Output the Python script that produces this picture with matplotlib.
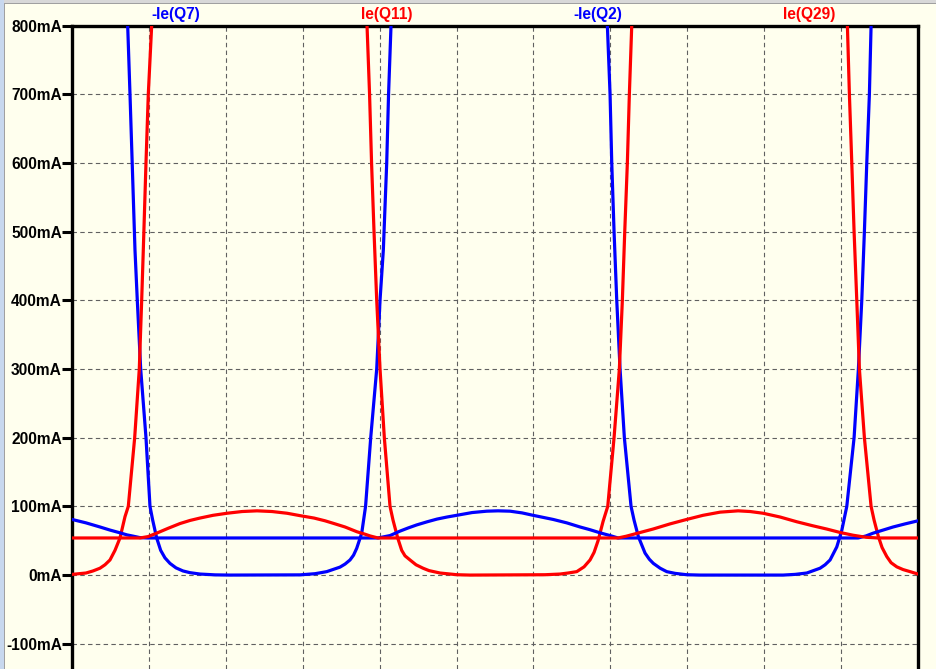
import matplotlib
matplotlib.use("Agg")
import matplotlib.pyplot as plt
from matplotlib.patches import Rectangle

W, H = 937, 669
BG = "#FFFFEE"

# time axis in grid divisions (11 divisions across the plot), currents in mA
t_q7 = [0.000, 0.724, 0.754, 0.819, 0.849, 0.893, 0.962, 1.014, 1.049, 1.101,
        1.153, 1.209, 1.274, 1.352, 1.443, 1.534, 1.664, 1.860, 2.055, 2.965,
        3.160, 3.312, 3.485, 3.550, 3.615, 3.661, 3.702, 3.767, 3.817, 3.884,
        3.962, 4.005, 4.048, 4.092, 4.116, 4.148, 5.540, 6.961, 6.996, 7.018,
        7.048, 7.083, 7.126, 7.182, 7.269, 7.308, 7.364, 7.451, 7.507, 7.559,
        7.647, 7.733, 7.841, 7.993, 8.166, 9.246, 9.402, 9.554, 9.727, 9.792,
        9.857, 9.944, 10.009, 10.074, 10.169, 10.225, 10.269, 10.303, 10.334,
        10.368, 10.390, 11.000]
i_q7 = [3900, 800, 700, 473, 400, 300, 200, 100, 80, 54,
        36, 25, 17, 10.5, 6, 3.5, 1.5, 0.3, 0, 0.3,
        2, 5, 11.6, 16, 22, 29, 39, 61, 100, 200,
        300, 400, 473, 600, 700, 800, 5000, 800, 700, 600,
        500, 400, 300, 200, 100, 80, 56, 32, 23, 17,
        10, 5, 2.5, 0.5, 0, 0, 1, 3, 10, 15,
        22, 41, 65, 100, 200, 300, 400, 500, 600,
        700, 800, 3500]

t_q11 = [0.000, 0.182, 0.273, 0.364, 0.429, 0.494, 0.559, 0.624, 0.689, 0.732,
         0.815, 0.875, 0.906, 0.927, 0.962, 0.992, 1.036, 2.419, 3.836, 3.869,
         3.895, 3.927, 3.962, 4.005, 4.061, 4.135, 4.174, 4.235, 4.287, 4.330,
         4.395, 4.473, 4.564, 4.642, 4.785, 5.006, 5.176, 6.151, 6.346, 6.450,
         6.563, 6.658, 6.736, 6.788, 6.840, 6.905, 6.966, 7.048, 7.117, 7.156,
         7.187, 7.221, 7.247, 7.278, 8.661, 10.082, 10.108, 10.139, 10.169,
         10.204, 10.238, 10.303, 10.390, 10.429, 10.485, 10.533, 10.594, 10.650,
         10.724, 10.806, 10.897, 11.000]
i_q11 = [1, 3, 6, 10, 15, 22, 36, 54, 85, 100,
         200, 300, 400, 473, 600, 700, 800, 5000, 800, 700,
         600, 500, 400, 300, 200, 100, 80, 54, 36, 28,
         22, 15, 10, 6.5, 3, 0.5, 0, 0.5, 1.5, 3,
         5, 12, 22, 33, 50, 78, 100, 200, 300, 400,
         500, 600, 700, 800, 5000, 800, 700, 600, 500,
         400, 300, 200, 100, 80, 56, 40, 27, 18,
         12, 8, 5, 1.5]

t_q2 = [0.000, 0.182, 0.364, 0.494, 0.624, 0.715, 0.793, 0.884, 0.988, 3.979,
        4.135, 4.265, 4.369, 4.482, 4.616, 4.746, 4.876, 5.003, 5.202, 5.393,
        5.540, 5.696, 5.852, 5.995, 6.125, 6.255, 6.433, 6.606, 6.736, 6.866,
        6.996, 7.100, 10.221, 10.325, 10.416, 10.546, 10.676, 10.832, 11.000]
i_q2 = [81, 76, 70, 65.5, 61.5, 58.5, 56.7, 54.5, 54, 54,
        57.5, 64, 68.5, 73, 77.5, 81.5, 84.5, 87, 91, 93,
        93.5, 93, 90.5, 87, 84, 81, 76, 70, 66, 61.5,
        57.5, 54, 54, 57, 61, 65.5, 70, 74.5, 79]

t_q29 = [0.000, 0.884, 0.988, 1.101, 1.248, 1.404, 1.534, 1.664, 1.834, 2.016,
         2.211, 2.406, 2.601, 2.796, 2.965, 3.147, 3.290, 3.407, 3.550, 3.706,
         3.810, 3.875, 3.979, 7.100, 7.204, 7.321, 7.438, 7.555, 7.776, 7.993,
         8.205, 8.427, 8.661, 8.817, 8.986, 9.207, 9.424, 9.623, 9.814, 9.987,
         10.156, 10.325, 10.481, 11.000]
i_q29 = [54, 54, 56, 61, 68, 75, 79.5, 83, 87, 90,
         92.5, 93.5, 92.5, 90, 86.5, 83, 79, 75, 70, 63,
         59.5, 57, 54, 54, 56.5, 60, 63.5, 67, 74.5, 81,
         87, 91.6, 93.5, 92.5, 90, 84.5, 77.6, 72, 67, 62,
         58, 55, 54, 54]

y_ticks = [-100, 0, 100, 200, 300, 400, 500, 600, 700, 800]
y_labels = ["-100mA", "0mA", "100mA", "200mA", "300mA", "400mA",
            "500mA", "600mA", "700mA", "800mA"]

trace_names = ["-Ie(Q7)", "Ie(Q11)", "-Ie(Q2)", "Ie(Q29)"]
trace_colors = ["#0000FF", "#FF0000", "#0000FF", "#FF0000"]
label_x = [176, 387, 598, 809]

plt.rcParams["font.family"] = ["Liberation Sans", "DejaVu Sans"]

fig = plt.figure(figsize=(W / 100, H / 100), dpi=100, facecolor=BG)
ax = fig.add_axes([72 / W, 0, (918 - 72) / W, (669 - 25.5) / H])
ax.set_facecolor(BG)

ax.set_xlim(0, 11)
ax.set_ylim(-(669 - 575) / 0.6875, 800)

# grid
for gx in range(1, 11):
    ax.axvline(gx, color="#606060", lw=0.8, ls=(0, (4, 3)), zorder=1)
for gy in y_ticks[:-1]:
    ax.axhline(gy, color="#606060", lw=0.8, ls=(0, (4, 3)), zorder=1)

series = [(t_q7, i_q7), (t_q11, i_q11), (t_q2, i_q2), (t_q29, i_q29)]
for (tt, ii), c in zip(series, trace_colors):
    ax.plot(tt, ii, color=c, lw=2.3, solid_joinstyle="round", zorder=3)

ax.set_yticks(y_ticks)
ax.set_yticklabels(y_labels, fontsize=11.2, fontweight="bold")
ax.tick_params(axis="y", length=7.2, width=2.2, pad=0, color="black")
ax.set_xticks([])

for s in ["left", "top", "right"]:
    ax.spines[s].set_linewidth(2.4)
    ax.spines[s].set_color("black")
ax.spines["bottom"].set_visible(False)

for name, c, lx in zip(trace_names, trace_colors, label_x):
    fig.text(lx / W, 1 - 14 / H, name, color=c, fontsize=11.2,
             fontweight="bold", ha="center", va="center")

# window frame
fig.add_artist(Rectangle((0, 1 - 3 / H), 1, 3 / H, transform=fig.transFigure,
                         facecolor="#D8D8D8", edgecolor="none"))
fig.add_artist(Rectangle((0, 1 - 4 / H), 1, 1 / H, transform=fig.transFigure,
                         facecolor="#A0A0A0", edgecolor="none"))
fig.add_artist(Rectangle((0, 0), 4 / W, 1, transform=fig.transFigure,
                         facecolor="#C8D8EE", edgecolor="none"))
fig.add_artist(Rectangle((4 / W, 0), 1 / W, 1 - 3 / H, transform=fig.transFigure,
                         facecolor="#A0A0A0", edgecolor="none"))

fig.savefig("out.png", dpi=100, facecolor=BG)
